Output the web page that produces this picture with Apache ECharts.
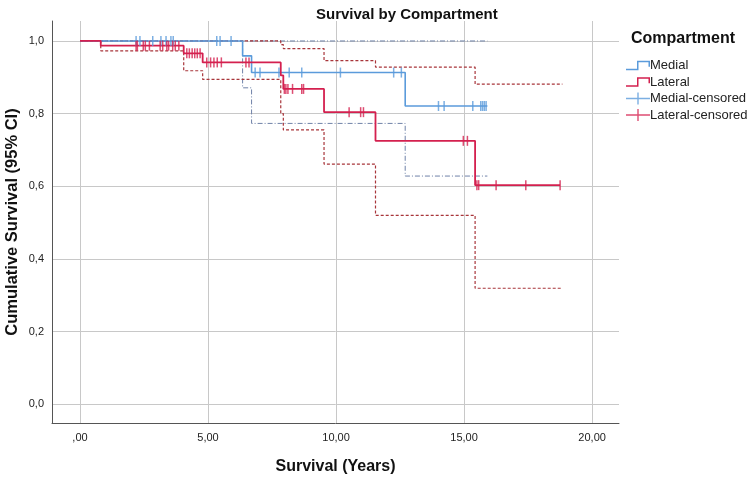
<!DOCTYPE html>
<html>
<head>
<meta charset="utf-8">
<script src="https://cdn.jsdelivr.net/npm/echarts@6/dist/echarts.min.js"></script>
<style>html,body{margin:0;padding:0;background:#fff}#c{width:749px;height:479px}</style>
</head>
<body>
<div id="c"></div>
<script>
// ---- data ----
const xTickValues = [0, 5, 10, 15, 20];
const xTickLabels = [',00', '5,00', '10,00', '15,00', '20,00'];
const yTickValues = [0, 0.2, 0.4, 0.6, 0.8, 1.0];
const yTickLabels = ['0,0', '0,2', '0,4', '0,6', '0,8', '1,0'];

const medialTimes = [0, 6.35, 6.70, 12.70, 15.91];
const medialSurv  = [1.0, 0.959, 0.913, 0.821, 0.821];
const medialUpperTimes = [0, 15.91];
const medialUpper      = [1.0, 1.0];
const medialLowerTimes = [0, 6.35, 6.70, 12.70, 15.91];
const medialLower      = [1.0, 0.871, 0.773, 0.628, 0.628];

const lateralTimes = [0, 0.81, 4.05, 4.79, 7.84, 7.94, 9.53, 11.54, 15.43, 18.75];
const lateralSurv  = [1.0, 0.987, 0.966, 0.941, 0.905, 0.868, 0.804, 0.725, 0.603, 0.603];
const lateralUpperTimes = [0, 7.84, 7.94, 9.53, 11.54, 15.43, 18.84];
const lateralUpper      = [1.0, 0.99, 0.979, 0.946, 0.928, 0.881, 0.881];
const lateralLowerTimes = [0, 0.81, 4.05, 4.79, 7.84, 7.94, 9.53, 11.54, 15.43, 18.84];
const lateralLower      = [1.0, 0.973, 0.918, 0.894, 0.80, 0.755, 0.661, 0.52, 0.319, 0.319];

const medialCensorTimes = [2.19, 2.34, 2.84, 3.16, 3.36, 3.55, 3.64, 5.34, 5.47, 5.90,
  6.84, 7.03, 7.77, 8.17, 8.66, 10.17, 12.25, 12.55,
  14.00, 14.22, 15.34, 15.65, 15.72, 15.79, 15.86];
const medialCensorSurv = [1, 1, 1, 1, 1, 1, 1, 1, 1, 1,
  0.913, 0.913, 0.913, 0.913, 0.913, 0.913, 0.913, 0.913,
  0.821, 0.821, 0.821, 0.821, 0.821, 0.821, 0.821];

const lateralCensorTimes = [2.19, 2.24, 2.47, 2.55, 2.71, 3.13, 3.23, 3.39, 3.46, 3.62, 3.72, 3.86,
  4.17, 4.27, 4.38, 4.48, 4.58, 4.69,
  4.95, 5.10, 5.23, 5.36, 5.52, 6.48, 6.60,
  7.98, 8.04, 8.12, 8.30, 8.66, 8.73,
  10.51, 10.96, 11.07,
  14.97, 15.13,
  15.50, 15.57, 16.25, 17.41, 18.75];
const lateralCensorSurv = [0.987, 0.987, 0.987, 0.987, 0.987, 0.987, 0.987, 0.987, 0.987, 0.987, 0.987, 0.987,
  0.966, 0.966, 0.966, 0.966, 0.966, 0.966,
  0.941, 0.941, 0.941, 0.941, 0.941, 0.941, 0.941,
  0.868, 0.868, 0.868, 0.868, 0.868, 0.868,
  0.804, 0.804, 0.804,
  0.725, 0.725,
  0.603, 0.603, 0.603, 0.603, 0.603];

// ---- helpers ----
const zip = (a, b) => a.map((v, i) => [v, b[i]]);
const FONT = '"Liberation Sans", Arial, sans-serif';
const BLUE = '#5b9bdb';
const RED = '#d4204f';
const RED_CI = '#a8353a';
const BLUE_CI = '#6f82a8';

const stepIcon = 'path://M0,9 H11 V1 H24 V7 H22.5 V2.5 H12.5 V10.5 H0 Z';
const plusIcon = 'path://M0,5.3 H24 V6.7 H0 Z M11.3,0 H12.7 V12 H11.3 Z';

const chart = echarts.init(document.getElementById('c'), null, {renderer: 'canvas'});
chart.setOption({
  animation: false,
  backgroundColor: '#ffffff',
  title: [
    {text: 'Survival by Compartment', left: 311, top: 2,
     textStyle: {fontFamily: FONT, fontSize: 15, fontWeight: 'bold', color: '#111'}},
    {text: 'Compartment', left: 626, top: 26,
     textStyle: {fontFamily: FONT, fontSize: 16, fontWeight: 'bold', color: '#111'}}
  ],
  legend: {
    orient: 'vertical', left: 621, top: 54,
    itemWidth: 24, itemHeight: 12, itemGap: 3.5,
    textStyle: {fontFamily: FONT, fontSize: 13, color: '#222', padding: [0, 0, 0, -5]},
    itemStyle: {borderWidth: 0},
    data: [
      {name: 'Medial', icon: stepIcon},
      {name: 'Lateral', icon: stepIcon},
      {name: 'Medial-censored', icon: plusIcon},
      {name: 'Lateral-censored', icon: plusIcon}
    ]
  },
  grid: {left: 52, right: 130, top: 21, bottom: 56, containLabel: false, outerBoundsMode: 'none'},
  xAxis: {
    type: 'value', min: -1.094, max: 21.05,
    name: 'Survival (Years)', nameLocation: 'middle', nameGap: 36, nameMoveOverlap: false,
    nameTextStyle: {fontFamily: FONT, fontSize: 16, fontWeight: 'bold', color: '#111'},
    axisLine: {show: true, onZero: false, lineStyle: {color: '#555', width: 1}},
    axisTick: {show: false, customValues: xTickValues},
    axisLabel: {customValues: xTickValues, margin: 9, fontFamily: FONT, fontSize: 11, color: '#222',
      formatter: v => xTickLabels[xTickValues.indexOf(v)]},
    splitLine: {show: true, lineStyle: {color: '#c8c8c8', width: 1}}
  },
  yAxis: {
    type: 'value', min: -0.052, max: 1.055,
    name: 'Cumulative Survival (95% CI)', nameLocation: 'middle', nameGap: 31, nameMoveOverlap: false,
    nameTextStyle: {fontFamily: FONT, fontSize: 16.5, fontWeight: 'bold', color: '#111'},
    axisLine: {show: true, onZero: false, lineStyle: {color: '#555', width: 1}},
    axisTick: {show: false, customValues: yTickValues},
    axisLabel: {customValues: yTickValues, margin: 8, fontFamily: FONT, fontSize: 11, color: '#222',
      formatter: v => yTickLabels[yTickValues.findIndex(t => Math.abs(t - v) < 1e-6)]},
    splitLine: {show: true, lineStyle: {color: '#c8c8c8', width: 1}}
  },
  series: [
    {name: 'Medial-upper', type: 'line', step: 'end', showSymbol: false, silent: true,
     data: zip(medialUpperTimes, medialUpper),
     lineStyle: {color: BLUE_CI, width: 1, type: [5, 2, 1, 2]}, z: 2},
    {name: 'Medial-lower', type: 'line', step: 'end', showSymbol: false, silent: true,
     data: zip(medialLowerTimes, medialLower),
     lineStyle: {color: BLUE_CI, width: 1, type: [5, 2, 1, 2]}, z: 2},
    {name: 'Lateral-upper', type: 'line', step: 'end', showSymbol: false, silent: true,
     data: zip(lateralUpperTimes, lateralUpper),
     lineStyle: {color: RED_CI, width: 1.2, type: [3, 2]}, z: 2},
    {name: 'Lateral-lower', type: 'line', step: 'end', showSymbol: false, silent: true,
     data: zip(lateralLowerTimes, lateralLower),
     lineStyle: {color: RED_CI, width: 1.2, type: [3, 2]}, z: 2},
    {name: 'Medial', type: 'line', step: 'end', showSymbol: false,
     data: zip(medialTimes, medialSurv), color: BLUE,
     lineStyle: {color: BLUE, width: 1.6}, z: 3},
    {name: 'Lateral', type: 'line', step: 'end', showSymbol: false,
     data: zip(lateralTimes, lateralSurv), color: RED,
     lineStyle: {color: RED, width: 1.8}, z: 4},
    {name: 'Medial-censored', type: 'scatter', symbol: 'rect', symbolSize: [1.5, 10],
     data: zip(medialCensorTimes, medialCensorSurv), color: BLUE,
     itemStyle: {color: BLUE}, z: 5},
    {name: 'Lateral-censored', type: 'scatter', symbol: 'rect', symbolSize: [1.5, 10],
     data: zip(lateralCensorTimes, lateralCensorSurv), color: RED,
     itemStyle: {color: RED}, z: 6}
  ]
});
</script>
</body>
</html>
